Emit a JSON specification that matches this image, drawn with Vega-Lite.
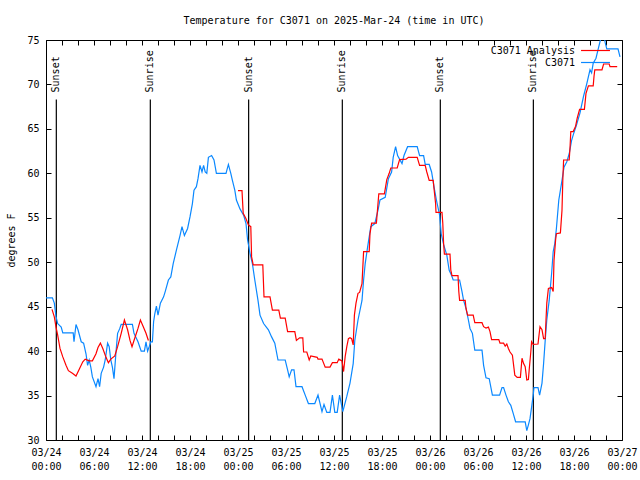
{
  "$schema": "https://vega.github.io/schema/vega-lite/v6.json",
  "width": 576,
  "height": 400,
  "autosize": {"type": "none"},
  "padding": {"left": 46, "top": 40, "right": 18, "bottom": 40},
  "background": "white",
  "title": {"text": "Temperature for C3071 on 2025-Mar-24 (time in UTC)", "font": "DejaVu Sans Mono", "fontSize": 10, "fontWeight": "normal", "color": "black", "offset": 9},
  "config": {
    "view": {"stroke": "black", "strokeWidth": 1},
    "axis": {"labelFont": "DejaVu Sans Mono", "labelFontSize": 10, "labelColor": "black", "titleFont": "DejaVu Sans Mono", "titleFontSize": 10, "titleFontWeight": "normal", "titleColor": "black", "domain": false, "grid": false, "tickColor": "black", "tickSize": -5, "tickWidth": 1, "labelFlush": false},
    "legend": {"labelFont": "DejaVu Sans Mono", "labelFontSize": 10, "labelColor": "black"}
  },
  "datasets": {
    "temps": [
      {"s":"C3071","h":0.0,"t":46.0},{"s":"C3071","h":0.8,"t":46.0},{"s":"C3071","h":1.04,"t":45.4},{"s":"C3071","h":1.25,"t":43.9},{"s":"C3071","h":1.46,"t":43.1},{"s":"C3071","h":1.9,"t":42.7},{"s":"C3071","h":2.1,"t":42.05},{"s":"C3071","h":3.4,"t":42.05},{"s":"C3071","h":3.5,"t":41.05},{"s":"C3071","h":3.75,"t":43.0},{"s":"C3071","h":4.0,"t":42.4},{"s":"C3071","h":4.4,"t":41.05},{"s":"C3071","h":4.7,"t":40.9},{"s":"C3071","h":5.0,"t":39.7},{"s":"C3071","h":5.2,"t":38.4},{"s":"C3071","h":5.4,"t":39.0},{"s":"C3071","h":5.6,"t":38.2},{"s":"C3071","h":5.8,"t":37.1},{"s":"C3071","h":6.25,"t":36.0},{"s":"C3071","h":6.5,"t":36.9},{"s":"C3071","h":6.7,"t":36.0},{"s":"C3071","h":6.9,"t":37.5},{"s":"C3071","h":7.2,"t":38.2},{"s":"C3071","h":7.4,"t":39.0},{"s":"C3071","h":7.7,"t":40.9},{"s":"C3071","h":7.9,"t":40.5},{"s":"C3071","h":8.1,"t":39.0},{"s":"C3071","h":8.3,"t":38.2},{"s":"C3071","h":8.5,"t":36.9},{"s":"C3071","h":8.75,"t":39.9},{"s":"C3071","h":8.95,"t":42.0},{"s":"C3071","h":9.2,"t":42.5},{"s":"C3071","h":9.4,"t":43.0},{"s":"C3071","h":10.8,"t":43.0},{"s":"C3071","h":11.0,"t":42.0},{"s":"C3071","h":11.5,"t":41.05},{"s":"C3071","h":11.9,"t":40.0},{"s":"C3071","h":12.3,"t":40.0},{"s":"C3071","h":12.5,"t":41.05},{"s":"C3071","h":12.7,"t":40.0},{"s":"C3071","h":12.9,"t":40.5},{"s":"C3071","h":13.1,"t":41.05},{"s":"C3071","h":13.3,"t":41.05},{"s":"C3071","h":13.45,"t":43.3},{"s":"C3071","h":13.6,"t":44.2},{"s":"C3071","h":13.8,"t":45.05},{"s":"C3071","h":14.0,"t":44.05},{"s":"C3071","h":14.3,"t":45.4},{"s":"C3071","h":14.7,"t":46.1},{"s":"C3071","h":14.9,"t":46.7},{"s":"C3071","h":15.3,"t":48.0},{"s":"C3071","h":15.6,"t":48.35},{"s":"C3071","h":15.9,"t":49.85},{"s":"C3071","h":16.3,"t":51.35},{"s":"C3071","h":16.75,"t":53.0},{"s":"C3071","h":17.0,"t":54.0},{"s":"C3071","h":17.3,"t":53.0},{"s":"C3071","h":17.7,"t":53.8},{"s":"C3071","h":18.0,"t":55.1},{"s":"C3071","h":18.3,"t":56.6},{"s":"C3071","h":18.5,"t":58.1},{"s":"C3071","h":18.8,"t":58.5},{"s":"C3071","h":19.0,"t":59.4},{"s":"C3071","h":19.25,"t":60.9},{"s":"C3071","h":19.5,"t":60.15},{"s":"C3071","h":19.7,"t":60.9},{"s":"C3071","h":19.9,"t":60.15},{"s":"C3071","h":20.1,"t":60.0},{"s":"C3071","h":20.3,"t":61.8},{"s":"C3071","h":20.7,"t":62.0},{"s":"C3071","h":21.0,"t":61.5},{"s":"C3071","h":21.3,"t":60.0},{"s":"C3071","h":22.5,"t":60.0},{"s":"C3071","h":22.8,"t":61.0},{"s":"C3071","h":23.1,"t":60.0},{"s":"C3071","h":23.3,"t":59.2},{"s":"C3071","h":23.6,"t":58.1},{"s":"C3071","h":23.8,"t":57.0},{"s":"C3071","h":24.25,"t":56.0},{"s":"C3071","h":24.7,"t":55.3},{"s":"C3071","h":25.0,"t":54.35},{"s":"C3071","h":25.2,"t":52.5},{"s":"C3071","h":25.5,"t":51.0},{"s":"C3071","h":25.8,"t":49.85},{"s":"C3071","h":26.1,"t":48.0},{"s":"C3071","h":26.5,"t":45.7},{"s":"C3071","h":26.75,"t":44.05},{"s":"C3071","h":27.2,"t":43.1},{"s":"C3071","h":27.8,"t":42.4},{"s":"C3071","h":28.2,"t":41.6},{"s":"C3071","h":28.6,"t":40.9},{"s":"C3071","h":29.0,"t":39.0},{"s":"C3071","h":29.9,"t":39.0},{"s":"C3071","h":30.2,"t":37.9},{"s":"C3071","h":30.4,"t":37.1},{"s":"C3071","h":30.7,"t":37.9},{"s":"C3071","h":31.0,"t":37.9},{"s":"C3071","h":31.25,"t":36.0},{"s":"C3071","h":32.0,"t":36.0},{"s":"C3071","h":32.4,"t":35.05},{"s":"C3071","h":32.8,"t":34.1},{"s":"C3071","h":33.6,"t":34.1},{"s":"C3071","h":34.0,"t":35.05},{"s":"C3071","h":34.5,"t":33.2},{"s":"C3071","h":34.75,"t":34.0},{"s":"C3071","h":35.1,"t":33.1},{"s":"C3071","h":35.5,"t":33.1},{"s":"C3071","h":35.8,"t":35.05},{"s":"C3071","h":36.1,"t":33.1},{"s":"C3071","h":36.4,"t":33.1},{"s":"C3071","h":36.7,"t":35.05},{"s":"C3071","h":37.1,"t":33.2},{"s":"C3071","h":37.6,"t":34.9},{"s":"C3071","h":38.0,"t":36.4},{"s":"C3071","h":38.4,"t":38.6},{"s":"C3071","h":38.6,"t":41.2},{"s":"C3071","h":39.0,"t":43.5},{"s":"C3071","h":39.5,"t":45.7},{"s":"C3071","h":39.7,"t":48.0},{"s":"C3071","h":39.9,"t":49.85},{"s":"C3071","h":40.2,"t":51.7},{"s":"C3071","h":40.6,"t":54.0},{"s":"C3071","h":41.1,"t":54.35},{"s":"C3071","h":41.5,"t":55.85},{"s":"C3071","h":41.75,"t":57.0},{"s":"C3071","h":42.4,"t":57.3},{"s":"C3071","h":42.8,"t":59.4},{"s":"C3071","h":43.2,"t":60.15},{"s":"C3071","h":43.4,"t":61.8},{"s":"C3071","h":43.7,"t":63.0},{"s":"C3071","h":43.95,"t":62.0},{"s":"C3071","h":44.5,"t":61.1},{"s":"C3071","h":44.75,"t":62.0},{"s":"C3071","h":45.2,"t":63.0},{"s":"C3071","h":46.4,"t":63.0},{"s":"C3071","h":46.7,"t":62.0},{"s":"C3071","h":47.2,"t":62.0},{"s":"C3071","h":47.4,"t":61.0},{"s":"C3071","h":47.9,"t":61.0},{"s":"C3071","h":48.2,"t":60.15},{"s":"C3071","h":48.5,"t":58.5},{"s":"C3071","h":48.8,"t":57.0},{"s":"C3071","h":49.2,"t":55.3},{"s":"C3071","h":49.4,"t":53.2},{"s":"C3071","h":49.7,"t":52.0},{"s":"C3071","h":50.1,"t":50.8},{"s":"C3071","h":50.4,"t":49.1},{"s":"C3071","h":50.7,"t":48.5},{"s":"C3071","h":50.9,"t":48.0},{"s":"C3071","h":51.7,"t":48.0},{"s":"C3071","h":52.0,"t":46.7},{"s":"C3071","h":52.2,"t":45.7},{"s":"C3071","h":52.5,"t":44.8},{"s":"C3071","h":52.8,"t":43.5},{"s":"C3071","h":53.0,"t":42.55},{"s":"C3071","h":53.3,"t":42.0},{"s":"C3071","h":53.6,"t":40.1},{"s":"C3071","h":54.5,"t":40.1},{"s":"C3071","h":54.7,"t":38.4},{"s":"C3071","h":55.0,"t":37.0},{"s":"C3071","h":55.4,"t":36.9},{"s":"C3071","h":55.8,"t":35.05},{"s":"C3071","h":56.7,"t":35.05},{"s":"C3071","h":57.0,"t":35.9},{"s":"C3071","h":57.2,"t":35.9},{"s":"C3071","h":57.5,"t":35.05},{"s":"C3071","h":57.8,"t":34.3},{"s":"C3071","h":58.1,"t":33.9},{"s":"C3071","h":58.4,"t":33.0},{"s":"C3071","h":58.7,"t":32.05},{"s":"C3071","h":59.9,"t":32.05},{"s":"C3071","h":60.1,"t":31.05},{"s":"C3071","h":60.3,"t":31.7},{"s":"C3071","h":60.5,"t":32.4},{"s":"C3071","h":60.7,"t":33.7},{"s":"C3071","h":60.9,"t":35.05},{"s":"C3071","h":61.0,"t":35.9},{"s":"C3071","h":61.5,"t":35.9},{"s":"C3071","h":61.7,"t":35.05},{"s":"C3071","h":62.0,"t":36.4},{"s":"C3071","h":62.2,"t":38.6},{"s":"C3071","h":62.4,"t":41.2},{"s":"C3071","h":62.6,"t":43.5},{"s":"C3071","h":62.9,"t":45.7},{"s":"C3071","h":63.2,"t":48.7},{"s":"C3071","h":63.4,"t":51.2},{"s":"C3071","h":63.6,"t":52.1},{"s":"C3071","h":63.8,"t":53.8},{"s":"C3071","h":64.1,"t":57.0},{"s":"C3071","h":64.5,"t":59.2},{"s":"C3071","h":64.75,"t":60.7},{"s":"C3071","h":65.1,"t":61.3},{"s":"C3071","h":65.4,"t":62.2},{"s":"C3071","h":65.7,"t":63.7},{"s":"C3071","h":66.0,"t":64.6},{"s":"C3071","h":66.3,"t":65.4},{"s":"C3071","h":66.75,"t":66.8},{"s":"C3071","h":67.2,"t":68.7},{"s":"C3071","h":67.6,"t":70.1},{"s":"C3071","h":68.0,"t":71.65},{"s":"C3071","h":68.2,"t":71.3},{"s":"C3071","h":68.4,"t":72.4},{"s":"C3071","h":68.75,"t":72.95},{"s":"C3071","h":69.0,"t":73.9},{"s":"C3071","h":69.3,"t":75.0},{"s":"C3071","h":69.5,"t":75.8},{"s":"C3071","h":69.7,"t":75.8},{"s":"C3071","h":69.9,"t":74.7},{"s":"C3071","h":70.1,"t":74.0},{"s":"C3071","h":71.5,"t":74.0},{"s":"C3071","h":71.75,"t":73.1},
      {"s":"C3071 Analysis","seg":1,"h":0.75,"t":44.7},{"s":"C3071 Analysis","seg":1,"h":1.04,"t":43.85},{"s":"C3071 Analysis","seg":1,"h":1.25,"t":42.7},{"s":"C3071 Analysis","seg":1,"h":1.46,"t":41.8},{"s":"C3071 Analysis","seg":1,"h":1.75,"t":40.3},{"s":"C3071 Analysis","seg":1,"h":2.1,"t":39.35},{"s":"C3071 Analysis","seg":1,"h":2.5,"t":38.4},{"s":"C3071 Analysis","seg":1,"h":2.8,"t":37.8},{"s":"C3071 Analysis","seg":1,"h":3.3,"t":37.5},{"s":"C3071 Analysis","seg":1,"h":3.75,"t":37.2},{"s":"C3071 Analysis","seg":1,"h":4.2,"t":38.05},{"s":"C3071 Analysis","seg":1,"h":4.6,"t":38.8},{"s":"C3071 Analysis","seg":1,"h":4.9,"t":39.1},{"s":"C3071 Analysis","seg":1,"h":5.4,"t":38.9},{"s":"C3071 Analysis","seg":1,"h":5.8,"t":38.9},{"s":"C3071 Analysis","seg":1,"h":6.25,"t":39.7},{"s":"C3071 Analysis","seg":1,"h":6.5,"t":40.4},{"s":"C3071 Analysis","seg":1,"h":6.8,"t":40.9},{"s":"C3071 Analysis","seg":1,"h":7.1,"t":40.3},{"s":"C3071 Analysis","seg":1,"h":7.5,"t":39.3},{"s":"C3071 Analysis","seg":1,"h":7.8,"t":38.7},{"s":"C3071 Analysis","seg":1,"h":8.1,"t":39.1},{"s":"C3071 Analysis","seg":1,"h":8.6,"t":39.45},{"s":"C3071 Analysis","seg":1,"h":8.95,"t":40.5},{"s":"C3071 Analysis","seg":1,"h":9.4,"t":42.0},{"s":"C3071 Analysis","seg":1,"h":9.8,"t":43.5},{"s":"C3071 Analysis","seg":1,"h":10.2,"t":42.4},{"s":"C3071 Analysis","seg":1,"h":10.5,"t":41.2},{"s":"C3071 Analysis","seg":1,"h":10.75,"t":40.5},{"s":"C3071 Analysis","seg":1,"h":11.0,"t":41.2},{"s":"C3071 Analysis","seg":1,"h":11.5,"t":42.55},{"s":"C3071 Analysis","seg":1,"h":11.8,"t":43.5},{"s":"C3071 Analysis","seg":1,"h":12.2,"t":42.65},{"s":"C3071 Analysis","seg":1,"h":12.5,"t":42.0},{"s":"C3071 Analysis","seg":1,"h":12.8,"t":41.2},
      {"s":"C3071 Analysis","seg":2,"h":24.0,"t":58.05},{"s":"C3071 Analysis","seg":2,"h":24.5,"t":58.05},{"s":"C3071 Analysis","seg":2,"h":24.65,"t":55.5},{"s":"C3071 Analysis","seg":2,"h":25.0,"t":54.9},{"s":"C3071 Analysis","seg":2,"h":25.3,"t":54.2},{"s":"C3071 Analysis","seg":2,"h":25.6,"t":54.0},{"s":"C3071 Analysis","seg":2,"h":25.7,"t":50.6},{"s":"C3071 Analysis","seg":2,"h":25.9,"t":49.7},{"s":"C3071 Analysis","seg":2,"h":27.1,"t":49.7},{"s":"C3071 Analysis","seg":2,"h":27.25,"t":46.1},{"s":"C3071 Analysis","seg":2,"h":28.0,"t":46.1},{"s":"C3071 Analysis","seg":2,"h":28.3,"t":44.6},{"s":"C3071 Analysis","seg":2,"h":29.1,"t":44.6},{"s":"C3071 Analysis","seg":2,"h":29.3,"t":43.7},{"s":"C3071 Analysis","seg":2,"h":29.9,"t":43.7},{"s":"C3071 Analysis","seg":2,"h":30.2,"t":42.2},{"s":"C3071 Analysis","seg":2,"h":31.1,"t":42.2},{"s":"C3071 Analysis","seg":2,"h":31.3,"t":41.2},{"s":"C3071 Analysis","seg":2,"h":31.7,"t":41.5},{"s":"C3071 Analysis","seg":2,"h":32.1,"t":41.5},{"s":"C3071 Analysis","seg":2,"h":32.2,"t":39.9},{"s":"C3071 Analysis","seg":2,"h":32.6,"t":39.9},{"s":"C3071 Analysis","seg":2,"h":32.9,"t":39.0},{"s":"C3071 Analysis","seg":2,"h":33.1,"t":39.45},{"s":"C3071 Analysis","seg":2,"h":33.9,"t":39.3},{"s":"C3071 Analysis","seg":2,"h":34.0,"t":39.1},{"s":"C3071 Analysis","seg":2,"h":34.5,"t":39.1},{"s":"C3071 Analysis","seg":2,"h":34.9,"t":38.2},{"s":"C3071 Analysis","seg":2,"h":35.5,"t":38.2},{"s":"C3071 Analysis","seg":2,"h":35.8,"t":38.7},{"s":"C3071 Analysis","seg":2,"h":36.4,"t":38.7},{"s":"C3071 Analysis","seg":2,"h":36.6,"t":39.1},{"s":"C3071 Analysis","seg":2,"h":37.0,"t":38.9},{"s":"C3071 Analysis","seg":2,"h":37.2,"t":37.7},{"s":"C3071 Analysis","seg":2,"h":37.4,"t":39.4},{"s":"C3071 Analysis","seg":2,"h":37.6,"t":40.5},{"s":"C3071 Analysis","seg":2,"h":37.8,"t":41.4},{"s":"C3071 Analysis","seg":2,"h":38.0,"t":41.5},{"s":"C3071 Analysis","seg":2,"h":38.2,"t":41.4},{"s":"C3071 Analysis","seg":2,"h":38.4,"t":40.7},{"s":"C3071 Analysis","seg":2,"h":38.55,"t":44.05},{"s":"C3071 Analysis","seg":2,"h":38.75,"t":45.4},{"s":"C3071 Analysis","seg":2,"h":39.0,"t":46.5},{"s":"C3071 Analysis","seg":2,"h":39.2,"t":46.6},{"s":"C3071 Analysis","seg":2,"h":39.5,"t":47.6},{"s":"C3071 Analysis","seg":2,"h":39.7,"t":51.2},{"s":"C3071 Analysis","seg":2,"h":40.4,"t":51.2},{"s":"C3071 Analysis","seg":2,"h":40.5,"t":53.2},{"s":"C3071 Analysis","seg":2,"h":40.7,"t":54.4},{"s":"C3071 Analysis","seg":2,"h":41.3,"t":54.4},{"s":"C3071 Analysis","seg":2,"h":41.6,"t":57.7},{"s":"C3071 Analysis","seg":2,"h":42.3,"t":57.7},{"s":"C3071 Analysis","seg":2,"h":42.6,"t":59.3},{"s":"C3071 Analysis","seg":2,"h":42.9,"t":60.0},{"s":"C3071 Analysis","seg":2,"h":43.1,"t":60.6},{"s":"C3071 Analysis","seg":2,"h":43.9,"t":60.6},{"s":"C3071 Analysis","seg":2,"h":44.2,"t":61.55},{"s":"C3071 Analysis","seg":2,"h":45.0,"t":61.6},{"s":"C3071 Analysis","seg":2,"h":45.3,"t":61.8},{"s":"C3071 Analysis","seg":2,"h":46.4,"t":61.8},{"s":"C3071 Analysis","seg":2,"h":46.7,"t":60.9},{"s":"C3071 Analysis","seg":2,"h":47.4,"t":60.9},{"s":"C3071 Analysis","seg":2,"h":47.6,"t":60.15},{"s":"C3071 Analysis","seg":2,"h":47.9,"t":59.2},{"s":"C3071 Analysis","seg":2,"h":48.4,"t":59.2},{"s":"C3071 Analysis","seg":2,"h":48.5,"t":58.3},{"s":"C3071 Analysis","seg":2,"h":48.7,"t":56.6},{"s":"C3071 Analysis","seg":2,"h":48.75,"t":55.6},{"s":"C3071 Analysis","seg":2,"h":49.5,"t":55.6},{"s":"C3071 Analysis","seg":2,"h":49.6,"t":54.35},{"s":"C3071 Analysis","seg":2,"h":49.7,"t":52.1},{"s":"C3071 Analysis","seg":2,"h":49.8,"t":50.9},{"s":"C3071 Analysis","seg":2,"h":50.5,"t":50.9},{"s":"C3071 Analysis","seg":2,"h":50.6,"t":49.1},{"s":"C3071 Analysis","seg":2,"h":50.75,"t":48.5},{"s":"C3071 Analysis","seg":2,"h":51.5,"t":48.5},{"s":"C3071 Analysis","seg":2,"h":51.6,"t":46.7},{"s":"C3071 Analysis","seg":2,"h":51.7,"t":45.7},{"s":"C3071 Analysis","seg":2,"h":52.4,"t":45.7},{"s":"C3071 Analysis","seg":2,"h":52.5,"t":44.8},{"s":"C3071 Analysis","seg":2,"h":52.7,"t":44.05},{"s":"C3071 Analysis","seg":2,"h":53.4,"t":44.05},{"s":"C3071 Analysis","seg":2,"h":53.6,"t":43.2},{"s":"C3071 Analysis","seg":2,"h":54.5,"t":43.2},{"s":"C3071 Analysis","seg":2,"h":54.7,"t":42.75},{"s":"C3071 Analysis","seg":2,"h":55.0,"t":42.6},{"s":"C3071 Analysis","seg":2,"h":55.3,"t":42.7},{"s":"C3071 Analysis","seg":2,"h":55.5,"t":42.2},{"s":"C3071 Analysis","seg":2,"h":55.7,"t":41.3},{"s":"C3071 Analysis","seg":2,"h":56.6,"t":41.3},{"s":"C3071 Analysis","seg":2,"h":56.75,"t":40.9},{"s":"C3071 Analysis","seg":2,"h":57.2,"t":40.9},{"s":"C3071 Analysis","seg":2,"h":57.4,"t":40.55},{"s":"C3071 Analysis","seg":2,"h":57.6,"t":40.8},{"s":"C3071 Analysis","seg":2,"h":57.8,"t":40.3},{"s":"C3071 Analysis","seg":2,"h":58.0,"t":39.9},{"s":"C3071 Analysis","seg":2,"h":58.3,"t":39.55},{"s":"C3071 Analysis","seg":2,"h":58.5,"t":38.05},{"s":"C3071 Analysis","seg":2,"h":58.6,"t":37.3},{"s":"C3071 Analysis","seg":2,"h":58.9,"t":37.05},{"s":"C3071 Analysis","seg":2,"h":59.3,"t":37.05},{"s":"C3071 Analysis","seg":2,"h":59.5,"t":39.2},{"s":"C3071 Analysis","seg":2,"h":59.7,"t":38.6},{"s":"C3071 Analysis","seg":2,"h":59.9,"t":38.25},{"s":"C3071 Analysis","seg":2,"h":60.1,"t":36.75},{"s":"C3071 Analysis","seg":2,"h":60.3,"t":36.8},{"s":"C3071 Analysis","seg":2,"h":60.4,"t":37.9},{"s":"C3071 Analysis","seg":2,"h":60.6,"t":39.9},{"s":"C3071 Analysis","seg":2,"h":60.7,"t":41.05},{"s":"C3071 Analysis","seg":2,"h":60.9,"t":40.75},{"s":"C3071 Analysis","seg":2,"h":61.5,"t":40.8},{"s":"C3071 Analysis","seg":2,"h":61.75,"t":42.75},{"s":"C3071 Analysis","seg":2,"h":62.0,"t":42.4},{"s":"C3071 Analysis","seg":2,"h":62.2,"t":41.4},{"s":"C3071 Analysis","seg":2,"h":62.4,"t":41.4},{"s":"C3071 Analysis","seg":2,"h":62.5,"t":43.5},{"s":"C3071 Analysis","seg":2,"h":62.6,"t":45.4},{"s":"C3071 Analysis","seg":2,"h":62.8,"t":47.05},{"s":"C3071 Analysis","seg":2,"h":63.2,"t":47.15},{"s":"C3071 Analysis","seg":2,"h":63.4,"t":46.7},{"s":"C3071 Analysis","seg":2,"h":63.5,"t":50.2},{"s":"C3071 Analysis","seg":2,"h":63.7,"t":52.5},{"s":"C3071 Analysis","seg":2,"h":63.8,"t":53.2},{"s":"C3071 Analysis","seg":2,"h":64.3,"t":53.3},{"s":"C3071 Analysis","seg":2,"h":64.5,"t":55.85},{"s":"C3071 Analysis","seg":2,"h":64.6,"t":59.2},{"s":"C3071 Analysis","seg":2,"h":64.7,"t":61.5},{"s":"C3071 Analysis","seg":2,"h":65.4,"t":61.5},{"s":"C3071 Analysis","seg":2,"h":65.5,"t":62.85},{"s":"C3071 Analysis","seg":2,"h":65.6,"t":64.7},{"s":"C3071 Analysis","seg":2,"h":65.9,"t":64.7},{"s":"C3071 Analysis","seg":2,"h":66.2,"t":65.3},{"s":"C3071 Analysis","seg":2,"h":66.4,"t":66.2},{"s":"C3071 Analysis","seg":2,"h":66.7,"t":67.2},{"s":"C3071 Analysis","seg":2,"h":67.3,"t":67.2},{"s":"C3071 Analysis","seg":2,"h":67.5,"t":69.0},{"s":"C3071 Analysis","seg":2,"h":67.8,"t":69.85},{"s":"C3071 Analysis","seg":2,"h":68.4,"t":69.85},{"s":"C3071 Analysis","seg":2,"h":68.5,"t":70.9},{"s":"C3071 Analysis","seg":2,"h":68.6,"t":71.65},{"s":"C3071 Analysis","seg":2,"h":69.5,"t":71.65},{"s":"C3071 Analysis","seg":2,"h":69.7,"t":72.3},{"s":"C3071 Analysis","seg":2,"h":70.4,"t":72.3},{"s":"C3071 Analysis","seg":2,"h":70.5,"t":72.0},{"s":"C3071 Analysis","seg":2,"h":71.4,"t":72.0}
    ],
    "sun": [
      {"event":"Sunset","h":1.29},{"event":"Sunrise","h":13.04},{"event":"Sunset","h":25.33},{"event":"Sunrise","h":37.04},{"event":"Sunset","h":49.29},{"event":"Sunrise","h":60.92}
    ]
  },
  "resolve": {"axis": {"x": "independent", "y": "independent"}},
  "layer": [
    {
      "data": {"name": "sun"},
      "mark": {"type": "rule", "color": "black", "strokeWidth": 1.2},
      "encoding": {
        "x": {"field": "h", "type": "quantitative", "scale": {"domain": [0, 72], "nice": false, "zero": false},
              "axis": {"orient": "top", "values": [0,2,4,6,8,10,12,14,16,18,20,22,24,26,28,30,32,34,36,38,40,42,44,46,48,50,52,54,56,58,60,62,64,66,68,70,72], "labels": false, "title": null}},
        "y": {"datum": 68.3, "type": "quantitative", "scale": {"domain": [30, 75], "nice": false, "zero": false},
              "axis": {"orient": "right", "values": [30,35,40,45,50,55,60,65,70,75], "labels": false, "title": null}},
        "y2": {"datum": 30}
      }
    },
    {
      "data": {"name": "sun"},
      "mark": {"type": "text", "angle": 270, "align": "left", "baseline": "middle", "font": "DejaVu Sans Mono", "fontSize": 10, "color": "black"},
      "encoding": {
        "x": {"field": "h", "type": "quantitative", "axis": null},
        "y": {"datum": 69.1, "type": "quantitative", "axis": null},
        "text": {"field": "event"}
      }
    },
    {
      "data": {"name": "temps"},
      "mark": {"type": "line", "strokeWidth": 1.2, "clip": true},
      "encoding": {
        "x": {"field": "h", "type": "quantitative",
              "axis": {"orient": "bottom", "values": [0,2,4,6,8,10,12,14,16,18,20,22,24,26,28,30,32,34,36,38,40,42,44,46,48,50,52,54,56,58,60,62,64,66,68,70,72], "title": null, "labelPadding": 12, "labelLineHeight": 14, "labelBaseline": "top", "labelOverlap": false,
                       "labelExpr": "datum.value % 6 == 0 ? ['03/' + (24 + floor(datum.value / 24)), ((datum.value % 24) < 10 ? '0' : '') + (datum.value % 24) + ':00'] : ''"}},
        "y": {"field": "t", "type": "quantitative",
              "axis": {"orient": "left", "values": [30,35,40,45,50,55,60,65,70,75], "title": "degrees F", "labelPadding": 12, "titlePadding": 10}},
        "color": {"field": "s", "type": "nominal", "scale": {"domain": ["C3071 Analysis", "C3071"], "range": ["#ff0000", "#0a88ff"]},
                  "legend": {"orient": "none", "legendX": 544, "legendY": 5, "title": null, "symbolType": "M-3,0H3", "symbolSize": 93, "symbolStrokeWidth": 1.2, "labelAlign": "right", "labelOffset": -26, "rowPadding": 1}},
        "detail": {"field": "seg"},
        "order": {"field": "h"}
      }
    }
  ]
}
